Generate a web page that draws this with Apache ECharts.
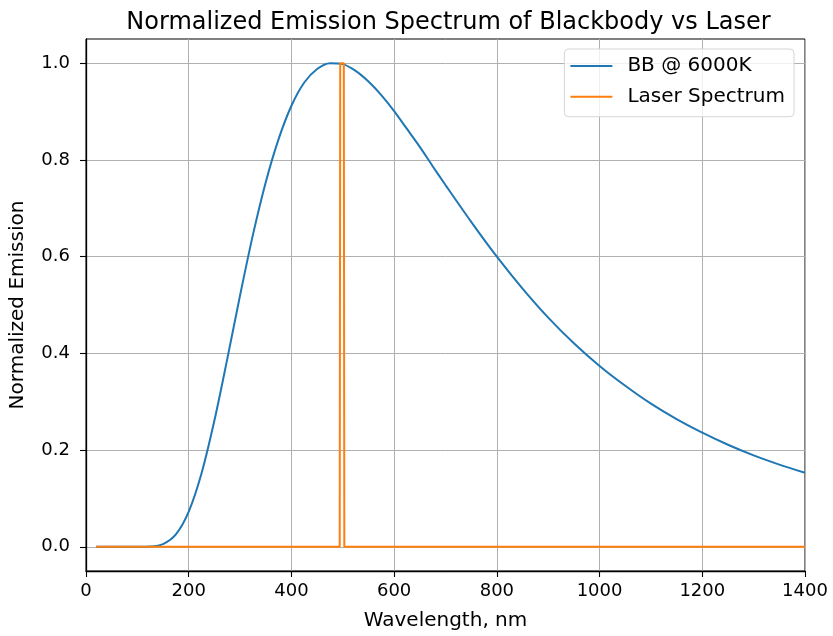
<!DOCTYPE html>
<html>
<head>
<meta charset="utf-8">
<script src="https://cdn.jsdelivr.net/npm/echarts@6/dist/echarts.min.js"></script>
<style>
  html, body { margin: 0; padding: 0; background: #fff; }
  #chart { width: 833px; height: 636px; }
</style>
</head>
<body>
<div id="chart"></div>
<script>
// Blackbody curve (wavelength nm, normalized emission)
const bbWavelength = [20, 50, 75, 100, 125, 150, 175, 200, 225, 250, 275, 300, 325, 350, 375,
  400, 425, 450, 475, 500, 525, 550, 575, 600, 625, 650, 675, 700, 750, 800, 850, 900, 950,
  1000, 1050, 1100, 1150, 1200, 1250, 1300, 1350, 1400];
const bbEmission = [0, 0, 0, 0.00001, 0.0006, 0.0056, 0.0255, 0.0726, 0.152, 0.261, 0.388, 0.520,
  0.645, 0.754, 0.843, 0.912, 0.960, 0.988, 1.0, 0.998, 0.984, 0.962, 0.934, 0.901, 0.864,
  0.827, 0.787, 0.748, 0.672, 0.600, 0.534, 0.474, 0.421, 0.374, 0.333, 0.296, 0.264, 0.236,
  0.211, 0.189, 0.170, 0.153];

// Laser spectrum: narrow line near 500 nm
const laserWavelength = [20, 494, 495, 502, 503, 1400];
const laserEmission = [0, 0, 1, 1, 0, 0];

const yTicks = [0, 0.2, 0.4, 0.6, 0.8, 1.0];

const pairs = (xs, ys) => xs.map((x, i) => [x, ys[i]]);

const FONT = "DejaVu Sans";
const chart = echarts.init(document.getElementById("chart"), null, { renderer: "canvas" });

const option = {
  animation: false,
  backgroundColor: "#fff",
  title: {
    text: "Normalized Emission Spectrum of Blackbody vs Laser",
    left: 443.5,
    textAlign: "center",
    top: 6,
    textStyle: { fontFamily: FONT, fontSize: 24, fontWeight: "normal", color: "#000" },
  },
  legend: {
    right: 39,
    top: 49,
    orient: "vertical",
    itemWidth: 42,
    itemHeight: 2,
    itemGap: 8.7,
    icon: "rect",
    padding: [6, 9, 9, 6],
    borderColor: "#d5d5d5",
    borderWidth: 1,
    borderRadius: 4,
    backgroundColor: "rgba(255,255,255,0.8)",
    textStyle: { fontFamily: FONT, fontSize: 20, lineHeight: 22, color: "#000", padding: [0, 0, 0, 10] },
    data: ["BB @ 6000K", "Laser Spectrum"],
  },
  grid: { left: 86, right: 28, top: 39, bottom: 63, containLabel: false,
    show: true, borderColor: "#000", borderWidth: 1 },
  xAxis: {
    type: "value",
    min: 0,
    max: 1400,
    interval: 200,
    name: "Wavelength, nm",
    nameLocation: "middle",
    nameGap: 40,
    nameTextStyle: { fontFamily: FONT, fontSize: 20, color: "#000" },
    axisLine: { show: true, onZero: false, lineStyle: { color: "#000", width: 1.3 } },
    axisTick: { show: true, length: 6, inside: false, lineStyle: { color: "#000", width: 1.1 } },
    axisLabel: { fontFamily: FONT, fontSize: 18, color: "#000", margin: 11,
      formatter: (v) => String(v) },
    splitLine: { show: true, lineStyle: { color: "#b0b0b0", width: 1 } },
  },
  yAxis: {
    type: "value",
    min: -0.05,
    max: 1.05,
    name: "Normalized Emission",
    nameLocation: "middle",
    nameGap: 58,
    nameTextStyle: { fontFamily: FONT, fontSize: 20, color: "#000" },
    axisLine: { show: true, onZero: false, lineStyle: { color: "#000", width: 1.3 } },
    axisTick: { show: true, length: 6, customValues: yTicks, lineStyle: { color: "#000", width: 1.1 } },
    axisLabel: { fontFamily: FONT, fontSize: 18, color: "#000", margin: 16,
      customValues: yTicks, formatter: (v) => v.toFixed(1) },
    splitLine: { show: true, lineStyle: { color: "#b0b0b0", width: 1 } },
  },
  series: [
    {
      name: "BB @ 6000K",
      type: "line",
      data: pairs(bbWavelength, bbEmission),
      smooth: 0.3,
      showSymbol: false,
      color: "#1f77b4",
      lineStyle: { width: 2, color: "#1f77b4" },
      z: 2,
    },
    {
      name: "Laser Spectrum",
      type: "line",
      data: pairs(laserWavelength, laserEmission),
      showSymbol: false,
      color: "#ff7f0e",
      lineStyle: { width: 2, color: "#ff7f0e" },
      z: 3,
    },
  ],
};

chart.setOption(option);
</script>
</body>
</html>
